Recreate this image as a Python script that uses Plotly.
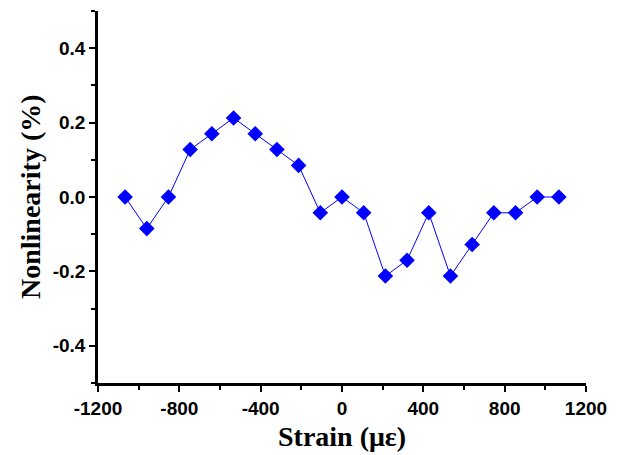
import plotly.graph_objects as go

strain = [-1066.7 + 106.67 * i for i in range(21)]
nonlinearity = [0.0, -0.085, 0.0, 0.1275, 0.17, 0.2125, 0.17, 0.1275, 0.085, -0.0425,
                0.0, -0.0425, -0.2125, -0.17, -0.0425, -0.2125, -0.1275, -0.0425, -0.0425, 0.0, 0.0]
x_ticks = [-1200, -800, -400, 0, 400, 800, 1200]
y_ticks = [-0.4, -0.2, 0.0, 0.2, 0.4]
y_labels = ["-0.4", "-0.2", "0.0", "0.2", "0.4"]
x_title = "Strain (με)"
y_title = "Nonlinearity (%)"

fig = go.Figure(go.Scatter(
    x=strain, y=nonlinearity, mode="lines+markers",
    line=dict(color="#0000ff", width=1),
    marker=dict(symbol="diamond", size=12, color="#0000ff"),
))

tickfont = dict(family="Arial, Liberation Sans", size=19, color="black", weight="bold")
titlefont = dict(family="Times New Roman, Liberation Serif", size=28, color="black", weight="bold")

# page body has an 8px default margin, so the figure is sized/offset to compensate
fig.update_layout(
    width=602, height=447,
    margin=dict(l=90, r=24, t=3, b=72),
    paper_bgcolor="white", plot_bgcolor="white",
    showlegend=False,
    xaxis=dict(
        range=[-1200, 1200], tickvals=x_ticks, ticktext=[str(v) for v in x_ticks],
        showgrid=False, zeroline=False, showline=True, linecolor="black", linewidth=2.5,
        ticks="outside", ticklen=6, tickwidth=2, tickcolor="black",
        minor=dict(dtick=200, tick0=0, ticks="outside", ticklen=4, tickwidth=2, tickcolor="black"),
        tickfont=tickfont, automargin=False,
    ),
    yaxis=dict(
        range=[-0.5, 0.5], tickvals=y_ticks, ticktext=y_labels,
        showgrid=False, zeroline=False, showline=True, linecolor="black", linewidth=2.5,
        ticks="outside", ticklen=6, tickwidth=2, tickcolor="black",
        minor=dict(dtick=0.1, tick0=0, ticks="outside", ticklen=4, tickwidth=2, tickcolor="black"),
        tickfont=tickfont, automargin=False,
    ),
    annotations=[
        dict(text=x_title, xref="paper", yref="paper", x=0.5, y=0,
             xanchor="center", yanchor="middle", yshift=-53, showarrow=False, font=titlefont),
        dict(text=y_title, xref="paper", yref="paper", x=0, y=0.5, textangle=-90,
             xanchor="center", yanchor="middle", xshift=-68, showarrow=False, font=titlefont),
    ],
)

fig.write_html("out.html")
